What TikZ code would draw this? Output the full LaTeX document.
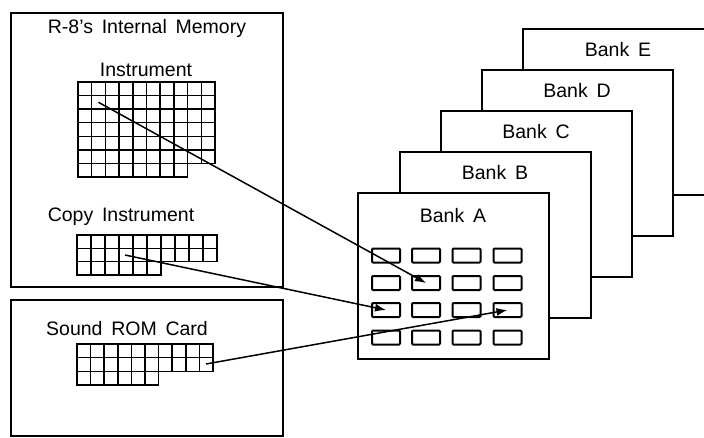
\documentclass[tikz,border=0pt]{standalone}
\usepackage{fontspec}
\setmainfont{Liberation Sans}
\usetikzlibrary{arrows.meta}
\newcommand\wsp{\hspace{0.45em}}
\begin{document}
\begin{tikzpicture}[x=1pt,y=-1pt,
  box/.style={draw, line width=1.8pt, inner sep=0pt, outer sep=0pt, anchor=north west},
  bank/.style={box, fill=white, minimum width=191pt, minimum height=166pt},
  slot/.style={draw, line width=2pt, rounded corners=1pt, minimum width=28pt, minimum height=14pt, inner sep=0pt, outer sep=0pt},
  lbl/.style={font=\fontsize{19.5}{21}\selectfont, inner sep=0pt},
  cell/.style={line width=1.5pt},
  conn/.style={line width=1.5pt, -{Latex[length=11pt,width=8pt]}}]
\useasboundingbox (0,0) rectangle (704,437);
\clip (0,0) rectangle (704,437);

% left boxes
\node[box, minimum width=272pt, minimum height=274pt] (mem) at (11,13) {};
\node[box, minimum width=272pt, minimum height=136pt] (rom) at (11,300) {};

\node[lbl] (memlbl) at (147,28) {R-8's\wsp Internal\wsp Memory};
\node[lbl] (instlbl) at (146,70) {Instrument};
\node[lbl] (copylbl) at (121,217) {Copy\wsp Instrument};
\node[lbl] (romlbl) at (127,329) {Sound\wsp ROM\wsp Card};

% Instrument grid
\foreach \r in {0,...,5} \foreach \c in {0,...,9}
  \draw[cell] ({78+\c*13.7},{82+\r*13.57}) rectangle ++(13.7,13.57);
\foreach \c in {0,...,7}
  \draw[cell] ({78+\c*13.7},{82+6*13.57}) rectangle ++(13.7,13.57);

% Copy Instrument grid
\foreach \r in {0,1} \foreach \c in {0,...,9}
  \draw[cell] ({77+\c*14},{235+\r*13.3}) rectangle ++(14,13.3);
\foreach \c in {0,...,5}
  \draw[cell] ({77+\c*14},{235+2*13.3}) rectangle ++(14,13.3);

% Sound ROM Card grid
\foreach \r in {0,1} \foreach \c in {0,...,9}
  \draw[cell] ({77+\c*13.6},{344+\r*13.7}) rectangle ++(13.6,13.7);
\foreach \c in {0,...,5}
  \draw[cell] ({77+\c*13.6},{344+2*13.7}) rectangle ++(13.6,13.7);

% banks
\node[bank] (bE) at (523,29) {};
\node[lbl] (lE) at (618,50) {Bank\wsp E};
\node[bank] (bD) at (482,70) {};
\node[lbl] (lD) at (577,91) {Bank\wsp D};
\node[bank] (bC) at (441,111) {};
\node[lbl] (lC) at (536,132) {Bank\wsp C};
\node[bank] (bB) at (400,152) {};
\node[lbl] (lB) at (495,173) {Bank\wsp B};
\node[bank] (bA) at (358,193) {};
\node[lbl] (lA) at (453,216) {Bank\wsp A};

% slots in bank A
\foreach \r/\yy in {1/255.5, 2/283, 3/310, 4/337.5}
  \foreach \c/\xx in {1/386, 2/426, 3/466.5, 4/507.5}
    \node[slot] (a\r\c) at (\xx,\yy) {};

% connectors
\coordinate (s1) at (98.5,102.3);
\coordinate (s2) at (125,255);
\coordinate (s3) at (206,364);
\draw[conn] (s1) -- (a22.center);
\draw[conn] (s2) -- (a31.center);
\draw[conn] (s3) -- (a34.center);
\end{tikzpicture}
\end{document}
